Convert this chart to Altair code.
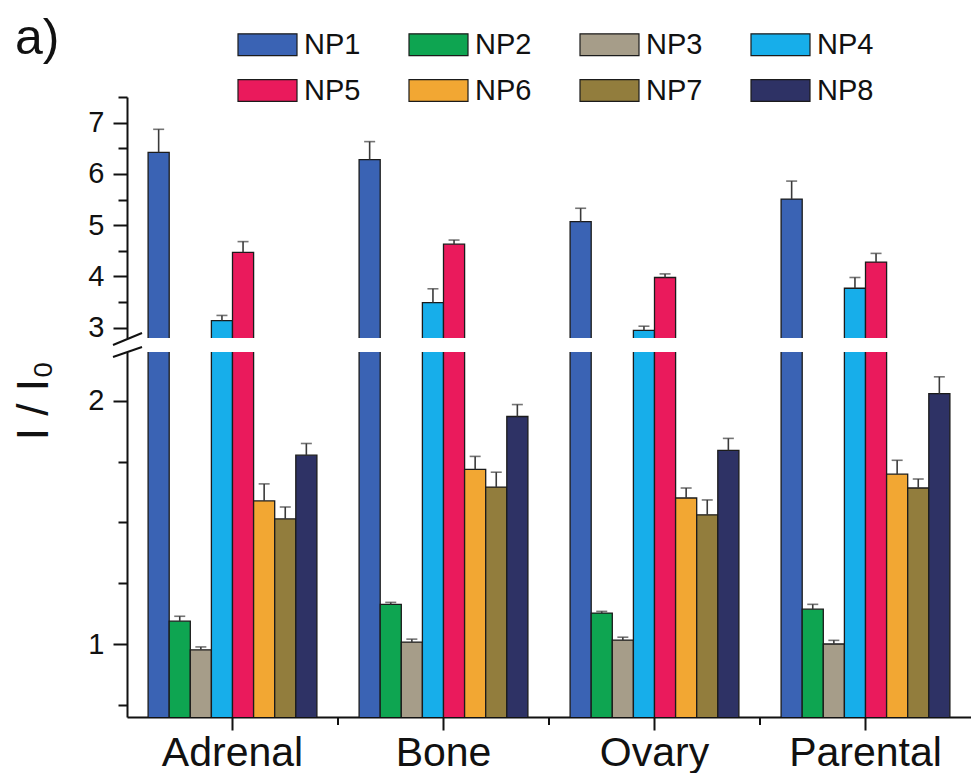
import altair as alt
import pandas as pd

tissues = ["Adrenal", "Bone", "Ovary", "Parental"]
series = ["NP1", "NP2", "NP3", "NP4", "NP5", "NP6", "NP7", "NP8"]
colors = ["#3a63b4", "#0ea551", "#a69d89", "#17aeea",
          "#ea1a5c", "#f2a733", "#927d3d", "#2e3265"]

# relative intensity I/I0 for each tissue (Adrenal, Bone, Ovary, Parental)
np1 = [6.42, 6.28, 5.07, 5.51]
np2 = [1.094, 1.163, 1.127, 1.143]
np3 = [0.976, 1.008, 1.016, 1.000]
np4 = [3.14, 3.49, 2.95, 3.77]
np5 = [4.47, 4.63, 3.98, 4.28]
np6 = [1.588, 1.718, 1.600, 1.698]
np7 = [1.514, 1.645, 1.531, 1.641]
np8 = [1.776, 1.935, 1.796, 2.029]

# standard deviations (drawn as upper error bars)
np1_err = [0.45, 0.35, 0.26, 0.35]
np2_err = [0.020, 0.008, 0.007, 0.020]
np3_err = [0.012, 0.012, 0.012, 0.015]
np4_err = [0.10, 0.27, 0.08, 0.21]
np5_err = [0.21, 0.08, 0.07, 0.17]
np6_err = [0.070, 0.053, 0.041, 0.057]
np7_err = [0.049, 0.061, 0.061, 0.037]
np8_err = [0.048, 0.049, 0.049, 0.069]

means = [np1, np2, np3, np4, np5, np6, np7, np8]
errs = [np1_err, np2_err, np3_err, np4_err, np5_err, np6_err, np7_err, np8_err]

rows = []
for s, m, e in zip(series, means, errs):
    for t, v, d in zip(tissues, m, e):
        rows.append({"tissue": t, "series": s, "value": v, "err": d, "top": v + d})
df = pd.DataFrame(rows)

FONT = "Liberation Sans"
INK = "#111111"
W = 844
PAD_INNER = 0.2

legend = alt.Legend(
    title=None, orient="none", legendX=110, legendY=-83, columns=4,
    direction="horizontal",
    symbolType="M-1,-0.37L1,-0.37L1,0.37L-1,0.37Z", symbolSize=3481,
    symbolStrokeColor="#1b1b1b", symbolStrokeWidth=1.2, symbolOpacity=1,
    labelFont=FONT, labelFontSize=29, labelColor=INK, labelOffset=6,
    columnPadding=45, rowPadding=-13, padding=0,
)

color = alt.Color("series:N", sort=series,
                  scale=alt.Scale(domain=series, range=colors), legend=legend)


def panel(domain, height, major, minor, bottom):
    if bottom:
        xaxis = alt.Axis(title=None, labelAngle=0, labelFont=FONT, labelFontSize=41,
                         labelColor=INK, labelPadding=3, tickSize=13, tickWidth=2,
                         tickColor=INK, domainWidth=2, domainColor=INK)
        yaxis = alt.Axis(values=major, title="I / I\u2080", titleFont=FONT,
                         titleFontSize=44, titleFontWeight="normal", titleColor=INK,
                         titleX=-71, titleY=48, titleAngle=-90,
                         titleAlign="center", titleBaseline="bottom",
                         labelFont=FONT, labelFontSize=29, labelColor=INK,
                         labelPadding=9, tickSize=14, tickWidth=2, tickColor=INK,
                         domainWidth=2, domainColor=INK, grid=False)
    else:
        xaxis = None
        yaxis = alt.Axis(values=major, title=None, labelFont=FONT, labelFontSize=29,
                         labelColor=INK, labelPadding=9, tickSize=14, tickWidth=2,
                         tickColor=INK, domainWidth=2, domainColor=INK, grid=False)
    minor_axis = alt.Axis(values=minor, orient="left", labels=False, domain=False,
                          title=None, tickSize=9, tickWidth=2, tickColor=INK, grid=False)

    xscale = alt.Scale(paddingInner=PAD_INNER, paddingOuter=PAD_INNER / 2)
    x = alt.X("tissue:N", sort=tissues, axis=xaxis, scale=xscale)
    xo = alt.XOffset("series:N", sort=series,
                     scale=alt.Scale(paddingInner=0, paddingOuter=0))
    yscale = alt.Scale(domain=domain, zero=False, nice=False)

    bars = alt.Chart(df).mark_bar(clip=True, stroke="#1b1b1b", strokeWidth=1.3).encode(
        x=x, xOffset=xo,
        y=alt.Y("value:Q", scale=yscale, axis=yaxis),
        color=color,
    )
    whisk = alt.Chart(df).mark_rule(clip=True, color="#3a3a3a", strokeWidth=1.6).encode(
        x=x, xOffset=xo,
        y=alt.Y("value:Q", axis=minor_axis),
        y2="top:Q",
    )
    caps = alt.Chart(df).mark_tick(clip=True, color="#3a3a3a", thickness=1.6, size=11).encode(
        x=x, xOffset=xo,
        y=alt.Y("top:Q", axis=None),
    )
    layers = [bars, whisk, caps]
    if bottom:
        # minor x ticks halfway between neighbouring tissue groups:
        # band end plus half of the inner padding gap
        step = W / len(tissues)
        mids = pd.DataFrame({"tissue": tissues[:-1]})
        layers.append(
            alt.Chart(mids).mark_rule(color=INK, strokeWidth=2,
                                      xOffset=step * PAD_INNER / 2).encode(
                x=alt.X("tissue:N", sort=tissues, axis=xaxis, bandPosition=1),
                y=alt.value(height), y2=alt.value(height + 8))
        )
        # axis-break slashes at the top of the lower segment
        brk = pd.DataFrame({"k": [0]})
        for y1, y2 in [(-7, -19), (5, -5)]:
            layers.append(
                alt.Chart(brk).mark_rule(color=INK, strokeWidth=2).encode(
                    x=alt.value(-14), x2=alt.value(15),
                    y=alt.value(y1), y2=alt.value(y2))
            )
    else:
        layers.append(
            alt.Chart(pd.DataFrame({"label": ["a)"]})).mark_text(
                align="left", baseline="alphabetic", font=FONT, fontSize=50, color=INK
            ).encode(text="label:N", x=alt.value(-112), y=alt.value(-43))
        )
    return alt.layer(*layers).resolve_axis(y="independent").properties(width=W, height=height)


upper = panel([2.8, 7.5], 241, [3, 4, 5, 6, 7], [3.5, 4.5, 5.5, 6.5, 7.5], False)
lower = panel([0.7, 2.2], 365, [1, 2], [0.75, 1.25, 1.5, 1.75], True)

chart = alt.vconcat(upper, lower, spacing=14, bounds="flush").properties(
    padding={"left": 12, "top": 14, "right": 0, "bottom": 0},
    background="white",
).configure_view(stroke=None)

chart.save("out.html", embed_options={"renderer": "svg", "actions": False})
